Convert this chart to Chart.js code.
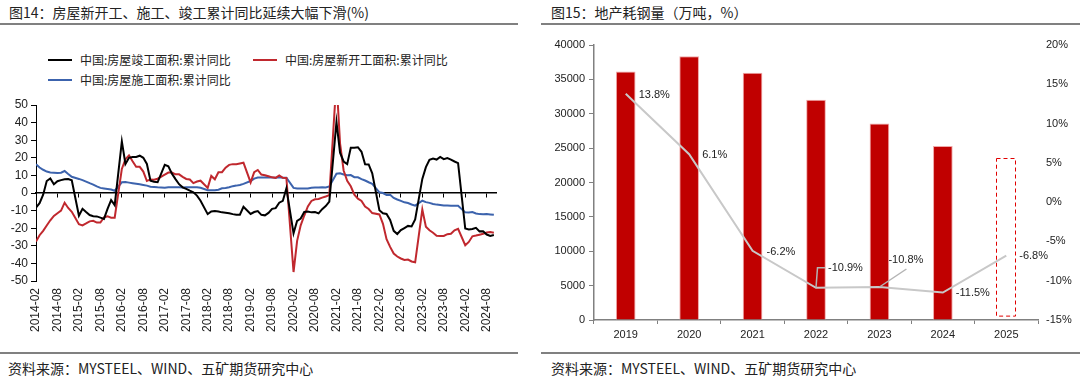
<!DOCTYPE html>
<html lang="zh-CN">
<head>
<meta charset="utf-8">
<title>房屋新开工、施工、竣工累计同比 / 地产耗钢量</title>
<script src="https://cdn.jsdelivr.net/npm/chart.js@4.4.1/dist/chart.umd.min.js"></script>
<style>
  html, body { margin: 0; padding: 0; background: #fff; }
  body { position: relative; width: 1080px; height: 381px; overflow: hidden;
         font-family: "Noto Sans CJK SC", "Noto Sans", sans-serif; color: #222; }
  canvas { display: block; }
  .title { position: absolute; top: 4px; font-size: 14px; line-height: 16px; white-space: nowrap; }
  .rule { position: absolute; height: 2px; background: #808080; }
  .source { position: absolute; top: 360px; font-size: 14px; line-height: 16px; white-space: nowrap; }
  .box { position: absolute; }
  #legend { position: absolute; left: 48px; top: 51px; display: grid; grid-template-columns: 205px auto;
            row-gap: 2px; font-size: 12px; line-height: 18px; }
  #legend .item { display: flex; align-items: center; white-space: nowrap; }
  #legend .swatch { width: 24px; height: 2px; margin-right: 8px; }
</style>
</head>
<body>
<div class="title" style="left:9px">图14：房屋新开工、施工、竣工累计同比延续大幅下滑(%)</div>
<div class="rule" style="left:0;top:23px;width:518px"></div>
<div class="title" style="left:551px">图15：地产耗钢量（万吨，%）</div>
<div class="rule" style="left:541px;top:23px;width:539px"></div>

<div id="legend"></div>
<div class="box" style="left:0;top:90px"><canvas id="leftChart" width="520" height="262"></canvas></div>
<div class="box" style="left:540px;top:30px"><canvas id="rightChart" width="540" height="322"></canvas></div>

<div class="rule" style="left:0;top:352px;width:518px"></div>
<div class="rule" style="left:541px;top:352px;width:539px"></div>
<div class="source" style="left:8px">资料来源：MYSTEEL、WIND、五矿期货研究中心</div>
<div class="source" style="left:551px">资料来源：MYSTEEL、WIND、五矿期货研究中心</div>

<script>
// ---- 图14：累计同比(%)，每年2-12月（1月不单独公布），2014-02 至 2024-10 ----
const xTickLabels = [
  '2014-02', '2014-08', '2015-02', '2015-08', '2016-02', '2016-08', '2017-02', '2017-08',
  '2018-02', '2018-08', '2019-02', '2019-08', '2020-02', '2020-08', '2021-02', '2021-08',
  '2022-02', '2022-08', '2023-02', '2023-08', '2024-02', '2024-08'
];

// 房屋竣工面积
const completedYoY = [
  -8.3, -5.8, -1.0, 6.8, 8.3, 5.0, 6.7, 7.3, 7.8, 7.9, 7.2,
  -12.9, -9.0, -10.8, -12.5, -13.2, -13.3, -14.0, -14.7, -9.0, -4.0, -6.9,
  29.3, 16.5, 20.0, 20.5, 20.5, 21.2, 20.0, 16.5, 7.0, 6.4, 6.1,
  16.0, 15.2, 11.0, 7.9, 5.0, 3.2, 2.3, 1.3, 0.4, -1.5, -4.4,
  -12.0, -10.5, -10.3, -10.5, -11.0, -11.2, -11.5, -12.0, -12.3, -12.3, -7.8,
  -11.9, -10.8, -10.3, -12.4, -12.7, -11.3, -9.0, -8.6, -5.5, -4.5, 2.6,
  -22.9, -15.8, -14.5, -10.8, -10.5, -11.0, -10.8, -11.6, -9.2, -7.4, -4.9,
  40.4, 22.9, 17.9, 16.4, 25.7, 25.7, 26.0, 23.4, 16.3, 16.2, 11.2,
  -9.8, -11.5, -11.9, -15.3, -21.5, -23.3, -21.1, -19.9, -18.7, -19.0, -15.0,
  8.0, 14.7, 18.8, 19.6, 19.0, 20.5, 19.2, 19.8, 19.0, 17.9, 17.0,
  -20.2, -20.7, -20.4, -19.8, -21.8, -21.7, -23.6, -24.4, -23.9
];

// 房屋新开工面积
const newStartsYoY = [
  -27.5, -24.0, -21.5, -18.5, -15.5, -13.0, -11.5, -10.0, -5.5, -8.5, -10.7,
  -17.7, -18.4, -17.3, -16.1, -15.8, -16.8, -16.8, -13.9, -13.3, -14.0, -14.0,
  13.7, 19.2, 21.4, 18.0, 14.9, 14.9, 12.2, 6.8, 7.7, 7.6, 8.1,
  10.4, 11.6, 11.6, 10.6, 10.6, 9.2, 8.0, 7.7, 5.6, 6.5, 7.0,
  2.9, 9.7, 7.8, 11.8, 11.8, 14.4, 16.0, 16.4, 16.3, 16.8, 17.2,
  6.0, 11.9, 13.1, 10.5, 10.1, 9.5, 8.9, 8.6, 10.0, 8.6, 8.5,
  -44.9, -27.2, -18.4, -12.8, -7.6, -4.5, -3.6, -3.4, -2.6, -2.0, -1.2,
  64.3, 28.2, 12.8, 6.9, 3.8, -0.9, -3.2, -4.5, -7.7, -9.1, -11.4,
  -12.2, -17.5, -26.3, -30.6, -34.4, -36.1, -37.2, -38.0, -37.8, -38.9, -39.4,
  -9.4, -19.2, -21.2, -22.6, -24.3, -24.5, -24.4, -23.4, -23.2, -21.2, -20.4,
  -29.7, -27.8, -24.6, -24.2, -23.7, -23.2, -22.5, -22.2, -22.6
];

// 房屋施工面积
const underConstructionYoY = [
  16.4, 14.5, 13.2, 12.2, 11.7, 11.5, 11.3, 11.5, 12.5, 10.8, 9.2,
  8.0, 7.3, 6.5, 5.6, 4.8, 3.8, 2.9, 2.6, 2.3, 2.0, 1.3,
  6.1, 6.2, 5.9, 5.6, 5.3, 5.0, 4.6, 4.2, 3.6, 3.4, 3.2,
  3.0, 3.3, 3.3, 3.2, 3.2, 3.1, 3.2, 3.2, 3.3, 3.3, 3.0,
  1.6, 1.5, 1.6, 1.9, 2.7, 2.9, 3.3, 3.9, 4.2, 4.6, 5.2,
  6.8, 8.2, 8.8, 8.8, 8.8, 9.0, 8.8, 8.7, 9.0, 8.7, 8.7,
  2.9, 2.6, 2.5, 2.6, 2.6, 3.0, 3.1, 3.1, 3.2, 3.1, 3.7,
  11.0, 11.2, 10.5, 10.1, 10.2, 9.0, 8.9, 7.9, 7.1, 6.1, 5.2,
  0.4, 0.0, -1.1, -1.0, -2.8, -3.7, -4.5, -5.3, -5.7, -6.5, -7.2,
  -4.4, -5.2, -5.6, -6.2, -6.6, -6.8, -7.1, -7.1, -7.3, -7.2, -7.2,
  -11.0, -11.1, -10.8, -11.6, -12.0, -12.1, -12.0, -12.2, -12.4
];

// ---- 图15：地产耗钢量（万吨）及同比(%) ----
const steelYears = ['2019', '2020', '2021', '2022', '2023', '2024', '2025'];
const steelUse = [36150, 38350, 35970, 32050, 28590, 25300, 23580];
const steelYoY = [13.8, 6.1, -6.2, -10.9, -10.8, -11.5, -6.8];
const forecastYears = ['2025'];

Chart.defaults.font.family = '"Liberation Sans", Arial, sans-serif';
Chart.defaults.color = '#222';

// month string 'YYYY-MM' -> months since 2014-02
function monthIndex(s) {
  const [y, m] = s.split('-').map(Number);
  return (y - 2014) * 12 + (m - 2);
}

// month labels for the data (Feb..Dec each year)
const monthLabels = [];
for (let y = 2014; monthLabels.length < completedYoY.length; y++) {
  for (let m = 2; m <= 12 && monthLabels.length < completedYoY.length; m++) {
    monthLabels.push(y + '-' + String(m).padStart(2, '0'));
  }
}

const toPoints = vals => vals.map((v, i) => ({ x: monthIndex(monthLabels[i]), y: v }));
const halfYearTicks = xTickLabels.map(monthIndex);
const setHalfYearTicks = scale => { scale.ticks = halfYearTicks.map(v => ({ value: v })); };
const xMax = monthIndex(monthLabels[monthLabels.length - 1]) + 0.6;

const leftChart = new Chart(document.getElementById('leftChart'), {
  type: 'line',
  data: {
    datasets: [
      { label: '中国:房屋竣工面积:累计同比', data: toPoints(completedYoY), borderColor: '#000000' },
      { label: '中国:房屋新开工面积:累计同比', data: toPoints(newStartsYoY), borderColor: '#c0282e' },
      { label: '中国:房屋施工面积:累计同比', data: toPoints(underConstructionYoY), borderColor: '#3c63ad' }
    ]
  },
  options: {
    responsive: false,
    animation: false,
    elements: { line: { borderWidth: 2, tension: 0 }, point: { radius: 0 } },
    layout: { padding: { top: 15, right: 24, left: 0, bottom: 0 } },
    plugins: { legend: { display: false }, tooltip: { enabled: false } },
    scales: {
      x: {
        type: 'linear', min: 0, max: xMax,
        afterBuildTicks: setHalfYearTicks,
        afterFit: s => { s.height = 71; },
        border: { display: false },
        grid: { display: false, drawTicks: false },
        ticks: {
          autoSkip: false, minRotation: 90, maxRotation: 90, padding: 7,
          font: { size: 12 },
          callback: v => xTickLabels[halfYearTicks.indexOf(v)]
        }
      },
      // zero line with small tick marks
      xZero: {
        type: 'linear', axis: 'x', position: { y: 0 }, min: 0, max: xMax,
        afterBuildTicks: setHalfYearTicks,
        border: { color: '#000', width: 1.5 },
        grid: { drawOnChartArea: false, tickLength: 4, color: '#000' },
        ticks: { display: false }
      },
      y: {
        min: -50, max: 50,
        afterFit: s => { s.width = 36; },
        border: { color: '#000' },
        grid: { drawOnChartArea: false, tickLength: 5, color: '#000' },
        ticks: { stepSize: 10, padding: 3, font: { size: 12 } }
      }
    }
  }
});

// HTML legend built from the datasets (two columns, wraps after 2)
const legendEl = document.getElementById('legend');
leftChart.data.datasets.forEach(ds => {
  const item = document.createElement('div');
  item.className = 'item';
  item.innerHTML = '<span class="swatch" style="background:' + ds.borderColor + '"></span>' + ds.label;
  legendEl.appendChild(item);
});

const isForecast = i => forecastYears.includes(steelYears[i]);

// dashed outline for forecast bar
const dashedForecastBar = {
  id: 'dashedForecastBar',
  beforeDatasetsDraw(chart) {
    const meta = chart.getDatasetMeta(1);
    const ctx = chart.ctx;
    meta.data.forEach((el, i) => {
      if (!isForecast(i)) return;
      const { x, y, width, base } = el.getProps(['x', 'y', 'width', 'base'], true);
      ctx.save();
      ctx.setLineDash([4, 3]);
      ctx.strokeStyle = '#e00000';
      ctx.lineWidth = 1;
      ctx.strokeRect(Math.round(x - width / 2) + 0.5, Math.round(y) + 0.5, Math.round(width) - 1, base - y - 4);
      ctx.restore();
    });
  }
};

// value labels for the YoY line, some with leader lines
const lineValueLabels = {
  id: 'lineValueLabels',
  afterDatasetsDraw(chart, args, opts) {
    const meta = chart.getDatasetMeta(0);
    const ctx = chart.ctx;
    ctx.save();
    ctx.font = '11px "Liberation Sans", Arial, sans-serif';
    ctx.textAlign = 'left';
    ctx.textBaseline = 'middle';
    meta.data.forEach((pt, i) => {
      const [dx, dy] = opts.offsets[i];
      const leader = opts.leaders[i];
      if (leader) {
        ctx.strokeStyle = '#b4b4b4';
        ctx.lineWidth = 1.5;
        ctx.beginPath();
        leader.forEach(([lx, ly], k) => {
          if (k === 0) ctx.moveTo(pt.x + lx, pt.y + ly); else ctx.lineTo(pt.x + lx, pt.y + ly);
        });
        ctx.stroke();
      }
      ctx.fillStyle = '#222';
      ctx.fillText(steelYoY[i].toFixed(1) + '%', pt.x + dx, pt.y + dy);
    });
    ctx.restore();
  }
};

new Chart(document.getElementById('rightChart'), {
  data: {
    labels: steelYears,
    datasets: [
      {
        type: 'line', label: '同比', data: steelYoY, yAxisID: 'y1', order: 0,
        borderColor: '#c8c8c8', borderWidth: 2, pointRadius: 0, tension: 0
      },
      {
        type: 'bar', label: '地产耗钢量', data: steelUse, yAxisID: 'y', order: 1,
        backgroundColor: c => isForecast(c.dataIndex) ? 'rgba(0,0,0,0)' : '#c00000',
        borderColor: c => isForecast(c.dataIndex) ? 'rgba(0,0,0,0)' : '#f0a8a8',
        borderWidth: 1, barPercentage: 0.31, categoryPercentage: 1
      }
    ]
  },
  options: {
    responsive: false,
    animation: false,
    layout: { padding: { top: 15, right: 0, left: 0, bottom: 0 } },
    plugins: {
      legend: { display: false },
      tooltip: { enabled: false },
      lineValueLabels: {
        offsets: [[13, 1], [13, 1], [14, 1], [12, -20], [9, -27], [13, 0], [13, 0]],
        leaders: [null, null, null, [[0, 0], [1.5, -20], [9, -20]], [[0, 0], [27, -18]], null, null]
      }
    },
    scales: {
      x: {
        afterFit: s => { s.height = 32; },
        border: { color: '#808080', width: 1.5 },
        grid: { drawOnChartArea: false, tickLength: 4, color: '#808080', offset: true },
        ticks: { font: { size: 11 }, padding: 4 }
      },
      y: {
        position: 'left', min: 0, max: 40000,
        afterFit: s => { s.width = 54; },
        border: { color: '#808080', width: 1.5 },
        grid: { drawOnChartArea: false, tickLength: 5, color: '#808080' },
        ticks: { stepSize: 5000, padding: 4, font: { size: 11 }, callback: v => String(v) }
      },
      y1: {
        position: 'right', min: -15, max: 20,
        afterFit: s => { s.width = 42; },
        border: { display: false },
        grid: { display: false, drawTicks: false },
        ticks: { stepSize: 5, padding: 8, font: { size: 11 }, callback: v => v + '%' }
      }
    }
  },
  plugins: [dashedForecastBar, lineValueLabels]
});
</script>
</body>
</html>
